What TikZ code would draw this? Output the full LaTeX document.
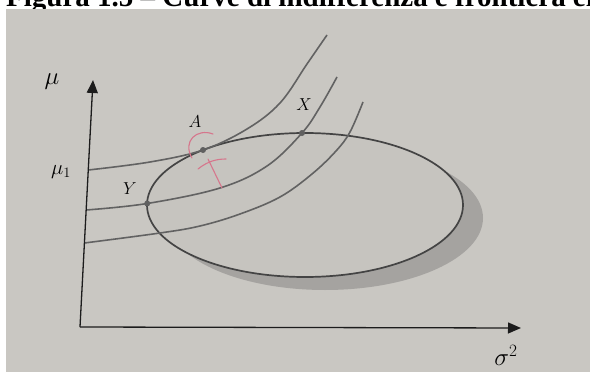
\documentclass[tikz,border=0pt]{standalone}
\usepackage{fontspec}
\newfontfamily\titlefont{Liberation Serif}
\usetikzlibrary{arrows.meta,calc}
\definecolor{photo}{RGB}{201,199,194}
\definecolor{inside}{RGB}{198,196,191}
\definecolor{shadowgray}{RGB}{165,163,160}
\definecolor{curvegray}{RGB}{98,98,98}
\definecolor{ellgray}{RGB}{68,68,68}
\definecolor{axisdark}{RGB}{28,28,28}
\definecolor{pen}{RGB}{214,118,140}
\tikzset{
  axisline/.style={draw=axisdark, line width=1.3pt, -{Triangle[length=13pt,width=11pt]}},
  indiff/.style={draw=curvegray, line width=1.6pt},
  frontier/.style={draw=ellgray, line width=1.7pt},
  pointmark/.style={circle, fill=gray!75!black, inner sep=0pt, minimum size=6pt},
  biglabel/.style={inner sep=0pt, font=\fontsize{25}{25}\selectfont},
  midlabel/.style={inner sep=0pt, font=\fontsize{22}{22}\selectfont},
  smalllabel/.style={inner sep=0pt, font=\fontsize{17}{17}\selectfont},
  penmark/.style={draw=pen, line width=1.1pt, line cap=round}
}
\begin{document}
\begin{tikzpicture}[x=1pt,y=-1pt]
\useasboundingbox (0,0) rectangle (590,372);
\fill[white] (0,0) rectangle (590,372);
\node[anchor=base west, inner sep=0pt, font=\titlefont\bfseries\fontsize{29}{29}\selectfont] (title) at (6,6) {Figura 1.5 – Curve di indifferenza e frontiera efficiente};
\fill[photo] (6,9) rectangle (590,372);
% shadow and feasible set
\coordinate (C) at (305,205);
\coordinate (Cs) at (325,218);
\fill[shadowgray] (Cs) ellipse [x radius=158, y radius=72];
\fill[inside] (C) ellipse [x radius=158, y radius=72];
\draw[frontier] (C) ellipse [x radius=158, y radius=72];
% key points
\coordinate (A) at (203,150);
\coordinate (X) at (302,133);
\coordinate (Y) at (147.2,203.5);
% axes
\coordinate (O) at (80,327);
\coordinate (ytip) at (93,80);
\coordinate (xtip) at (521,328);
\coordinate (c1) at (88.3,170);
\coordinate (c2) at (86.2,210);
\coordinate (c3) at (84.4,243);
% indifference curves
\draw[indiff] plot[smooth, tension=0.6] coordinates {(c1) (150,162) (A) (247,129) (280,103) (307,64) (327,35)};
\draw[indiff] plot[smooth, tension=0.6] coordinates {(c2) (Y) (220,188) (267,166) (X) (320,107) (337,77)};
\draw[indiff] plot[smooth, tension=0.6] coordinates {(c3) (160,233) (200,226) (240,214) (280,197) (312,174) (336,151) (350,132) (363,102)};
\draw[axisline] (O) -- (ytip);
\draw[axisline] (O) -- (xtip);
% point markers
\node[pointmark] (pA) at (A) {};
\node[pointmark] (pX) at (X) {};
\node[pointmark] (pY) at (Y) {};
% pen annotation
\draw[penmark] (213,134) .. controls (197,128) and (182,141) .. (192,158);
\draw[penmark] (198,169) .. controls (208,161) and (217,159) .. (226,159);
\draw[penmark] (208,159) -- (222,188);
% labels
\node[biglabel] (mu) at (52,82) {$\mu$};
\node[midlabel] (mu1) at (61,172) {$\mu_1$};
\node[smalllabel] (lA) at (195,122) {$A$};
\node[smalllabel] (lX) at (304,105) {$X$};
\node[smalllabel] (lY) at (130,189) {$Y$};
\node[biglabel] (sig) at (506,355) {$\sigma^2$};
\end{tikzpicture}
\end{document}
